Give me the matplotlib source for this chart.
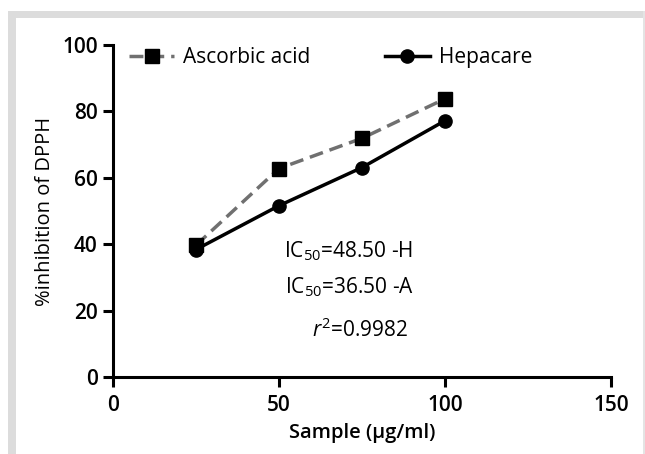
import matplotlib
matplotlib.use("Agg")
import matplotlib.pyplot as plt
from matplotlib import font_manager
from matplotlib.patches import Rectangle

# Data
x_conc = [25, 50, 75, 100]
ascorbic = [39.7, 62.8, 71.9, 83.8]
hepacare = [38.4, 51.6, 63.1, 77.2]
x_ticks = [0, 50, 100, 150]
y_ticks = [0, 20, 40, 60, 80, 100]
series_names = ["Ascorbic acid", "Hepacare"]

names = {f.name for f in font_manager.fontManager.ttflist}
main = "Open Sans" if "Open Sans" in names else "DejaVu Sans"
plt.rcParams['font.family'] = [main, 'DejaVu Sans']
plt.rcParams['mathtext.fontset'] = 'custom'
plt.rcParams['mathtext.rm'] = main
plt.rcParams['mathtext.it'] = main + ':italic'

fig = plt.figure(figsize=(6.45, 4.54), dpi=100)
W, H = 645, 454
# grey frame
fig.patches.append(Rectangle((8/W, 0), 8/W, 1 - 11/H, transform=fig.transFigure,
                             facecolor='#dcdcdc', edgecolor='none'))
fig.patches.append(Rectangle((8/W, 1 - 18/H), 1 - 8/W, 7/H, transform=fig.transFigure,
                             facecolor='#dcdcdc', edgecolor='none'))
fig.patches.append(Rectangle((643/W, 0), 2/W, 1 - 11/H, transform=fig.transFigure,
                             facecolor='#e4e4e4', edgecolor='none'))

ax = fig.add_axes([113/W, 1 - 377/H, (611 - 113)/W, (377 - 45)/H])
ax.plot(x_conc, ascorbic, color='#707070', linestyle=(0, (4, 2)), linewidth=2.5,
        marker='s', markersize=9.5, markerfacecolor='black', markeredgecolor='black',
        label=series_names[0], zorder=3)
ax.plot(x_conc, hepacare, color='black', linestyle='-', linewidth=2.5,
        marker='o', markersize=9.5, markerfacecolor='black', markeredgecolor='black',
        label=series_names[1], zorder=4)

ax.set_xlim(0, 150)
ax.set_ylim(0, 100)
ax.set_xticks(x_ticks)
ax.set_yticks(y_ticks)
for s in ['top', 'right']:
    ax.spines[s].set_visible(False)
for s in ['left', 'bottom']:
    ax.spines[s].set_linewidth(2.2)
ax.tick_params(direction='out', length=7.5, width=2.2, labelsize=15)
ax.tick_params(axis='x', pad=5.5)
ax.tick_params(axis='y', pad=3.5)
for lab in ax.get_xticklabels() + ax.get_yticklabels():
    lab.set_fontweight('semibold')

ax.set_xlabel("Sample (\u00b5g/ml)", fontsize=14.5, fontweight='semibold', labelpad=5)
ax.set_ylabel("%inhibition of DPPH", fontsize=14.5, labelpad=5)

leg = ax.legend(loc='upper left', bbox_to_anchor=(-0.005, 1.05), ncol=2, frameon=False,
                fontsize=15, handlelength=2.15, handletextpad=0.42, columnspacing=3.6)

ax.text(349/W, 1 - 251/H, r"IC$_{50}$=48.50 -H", transform=fig.transFigure,
        ha='center', va='center', fontsize=15)
ax.text(349/W, 1 - 287/H, r"IC$_{50}$=36.50 -A", transform=fig.transFigure,
        ha='center', va='center', fontsize=15)
ax.text(360/W, 1 - 330/H, r"$r^{2}$=0.9982", transform=fig.transFigure,
        ha='center', va='center', fontsize=15)

fig.savefig("out.png", dpi=100)
